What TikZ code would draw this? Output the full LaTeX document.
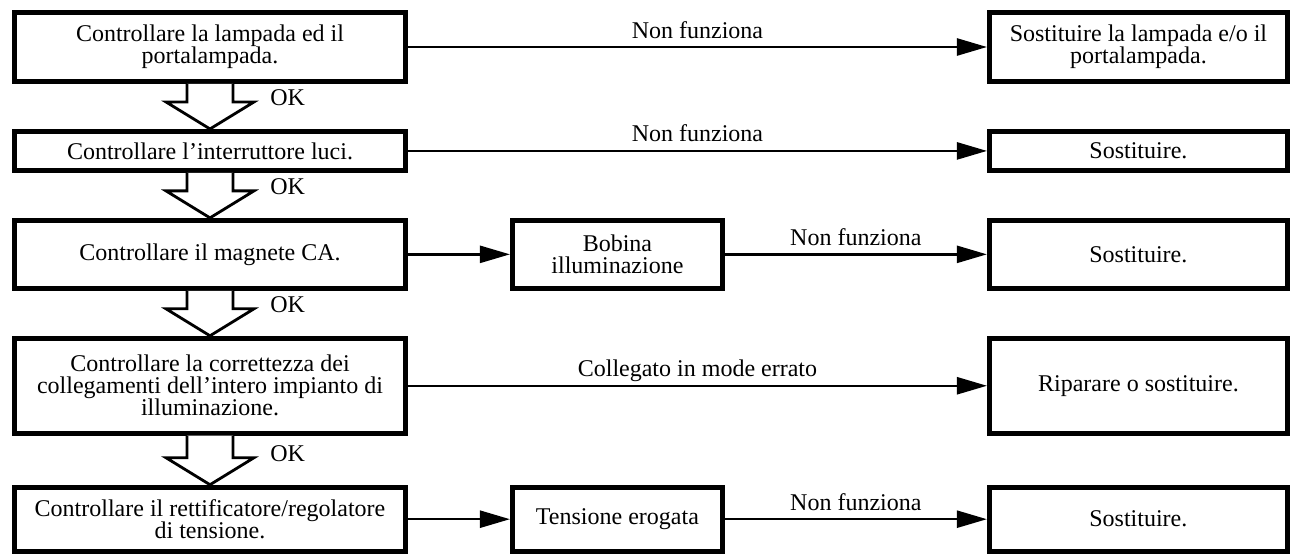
\documentclass[tikz,border=0pt]{standalone}
\usepackage{fontspec}
\setmainfont{Liberation Serif}
\usepackage{tikz}
\usetikzlibrary{arrows.meta,positioning,calc}
\tikzstyle{box}=[rectangle, draw=black, line width=2.8pt, fill=white, align=center, inner sep=0pt]
\tikzstyle{chk}=[box, minimum width=7.82cm]
\tikzstyle{part}=[box, minimum width=4.2cm]
\tikzstyle{fix}=[box, minimum width=5.96cm]
\tikzstyle{arrow}=[-{Triangle[length=0.6cm,width=0.34cm]}, line width=1.4pt]
\tikzstyle{okarrow}=[line width=1.6pt, fill=white, line join=miter]
\tikzstyle{lab}=[anchor=base, inner sep=0pt, yshift=0.18cm]
\tikzstyle{okl}=[anchor=base west, inner sep=0pt, xshift=0.3cm, yshift=-0.08cm]

\begin{document}
\begin{tikzpicture}[node distance=0.9cm, font=\fontsize{13.66pt}{12.5pt}\selectfont]
\useasboundingbox (0,0) rectangle (25.84,-11.08);
\node (a) [chk, minimum height=1.38cm] at (4.2,-0.94) {Controllare la lampada ed il\\portalampada.};
\node (b) [chk, minimum height=0.78cm, below=of a] {Controllare l'interruttore luci.};
\node (c) [chk, minimum height=1.36cm, below=of b] {Controllare il magnete CA.};
\node (d) [chk, minimum height=1.9cm, below=of c] {Controllare la correttezza dei\\collegamenti dell'intero impianto di\\illuminazione.};
\node (e) [chk, minimum height=1.28cm, below=0.98cm of d] {Controllare il rettificatore/regolatore\\di tensione.};
\node (p) [part, minimum height=1.36cm, right=2.04cm of c] {Bobina\\illuminazione};
\node (q) [part, minimum height=1.28cm, right=2.04cm of e] {Tensione erogata};
\node (f) [fix, minimum height=1.38cm, right=11.58cm of a] {Sostituire la lampada e/o il\\portalampada.};
\node (g) [fix, minimum height=0.78cm, right=11.58cm of b] {Sostituire.};
\node (h) [fix, minimum height=1.36cm, right=5.24cm of p] {Sostituire.};
\node (i) [fix, minimum height=1.9cm, right=11.58cm of d] {Riparare o sostituire.};
\node (j) [fix, minimum height=1.28cm, right=5.24cm of q] {Sostituire.};
% OK arrows down the left column
\foreach \u/\v in {a/b,b/c,c/d,d/e}
  \draw[okarrow] ($(\u.south)+(-0.46,0)$) -- ($(\v.north)+(-0.46,0.54)$) -- ++(-0.42,0)
    -- (\v.north) -- ++(0.88,0.54) node (ok\u) [okl] {OK} -- ++(-0.42,0) -- ($(\u.south)+(0.46,0)$);
\draw[arrow] (a) -- node (l1) [lab] {Non funziona} (f);
\draw[arrow] (b) -- node (l2) [lab] {Non funziona} (g);
\draw[arrow] (c) -- (p);
\draw[arrow] (p) -- node (l3) [lab] {Non funziona} (h);
\draw[arrow] (d) -- node (l4) [lab] {Collegato in mode errato} (i);
\draw[arrow] (e) -- (q);
\draw[arrow] (q) -- node (l5) [lab] {Non funziona} (j);
\end{tikzpicture}
\end{document}
